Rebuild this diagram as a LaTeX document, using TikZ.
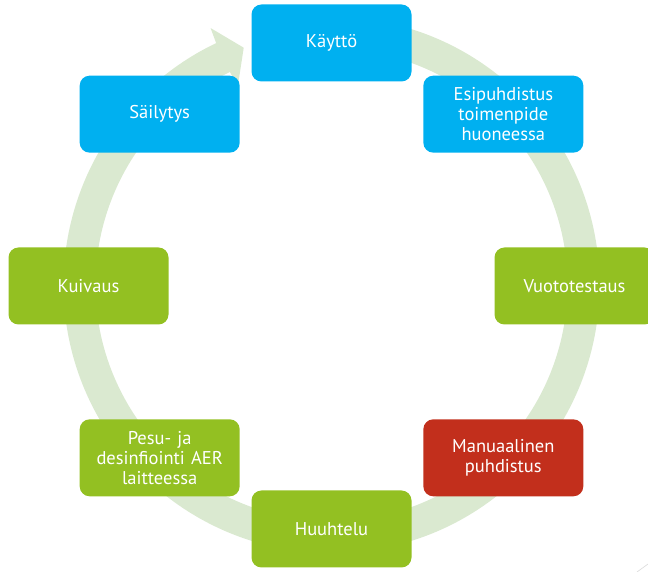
\documentclass[tikz,border=0pt]{standalone}
\usepackage{fontspec}
\setmainfont{PT Sans}
\definecolor{ringc}{HTML}{DAE9D0}
\definecolor{bluec}{HTML}{00B0F0}
\definecolor{greenc}{HTML}{93C022}
\definecolor{redc}{HTML}{C22F1C}
\begin{document}
\begin{tikzpicture}[x=1pt,y=1pt,
  stage/.style={rectangle,rounded corners=10pt,minimum width=160pt,minimum height=77pt,
    text width=150pt,align=center,text=white,inner sep=0pt,
    font=\fontsize{18.5}{20}\selectfont},
  bluebox/.style={stage,fill=bluec},
  greenbox/.style={stage,fill=greenc},
  redbox/.style={stage,fill=redc}]
\useasboundingbox (0,0) rectangle (648,572);
\clip (0,0) rectangle (648,572);
% ring arrow
\fill[ringc,shift={(331.5,287)}] (95:268) arc[start angle=95,end angle=-244.5,radius=268]
  -- (115.2:284) -- (110.3:253) -- (115.2:220) -- (115.5:236)
  arc[start angle=-244.5,end angle=95,radius=236] -- cycle;
% stages
\begin{scope}[shift={(331.5,286)}]
\node[bluebox]  (kaytto) at (90:243)  {Käyttö};
\node[bluebox]  (esi)    at (45:243)  {Esipuhdistus\\toimenpide\\huoneessa};
\node[greenbox] (vuoto)  at (0:243)   {Vuototestaus};
\node[redbox]   (manu)   at (-45:243) {Manuaalinen\\puhdistus};
\node[greenbox] (huuh)   at (-90:243) {Huuhtelu};
\node[greenbox] (pesu)   at (-135:243){Pesu- ja\\desinfiointi AER\\laitteessa};
\node[greenbox] (kuiv)   at (180:243) {Kuivaus};
\node[bluebox]  (sail)   at (135:243) {Säilytys};
\end{scope}
\draw[gray!30,line width=0.6pt] (637,0) -- (648,8);
\end{tikzpicture}
\end{document}
